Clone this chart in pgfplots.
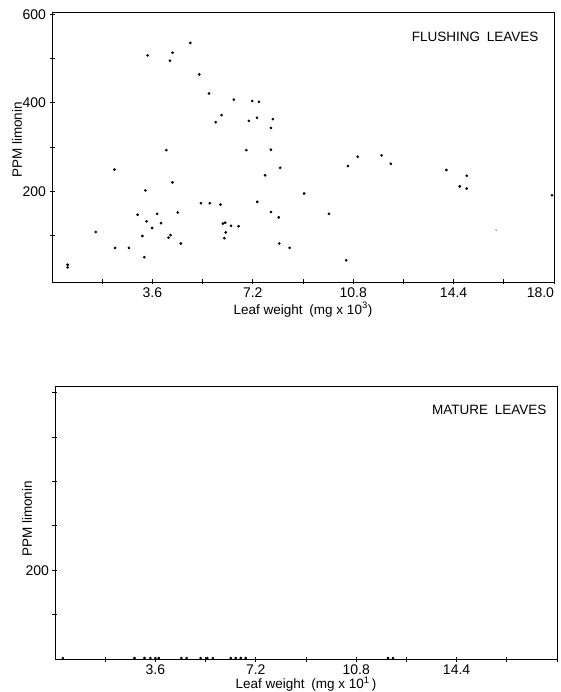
\documentclass[border=0pt]{standalone}
\usepackage{fontspec}
\setmainfont{Liberation Sans}
\usepackage{pgfplots}
\pgfplotsset{compat=1.18}
\pgfplotsset{
  leafstyle/.style={
    scale only axis, width=502pt,
    xmin=0, xmax=18,
    axis line style={line width=0.8pt},
    every tick/.style={line width=0.8pt, black},
    tick align=center,
    major tick length=5pt, minor tick length=5pt,
    xtick pos=bottom, ytick pos=left,
    xtick={3.6,7.2,10.8,14.4,18},
    minor xtick={1.8,5.4,9,12.6,16.2},
    ticklabel style={font=\fontsize{14}{16}\selectfont},
    label style={font=\fontsize{13.5}{16}\selectfont},
    /pgf/number format/assume math mode=true,
    clip=false,
  },
  dots/.style={only marks, mark=*, mark size=1.15pt, black},
}
\begin{document}
\begin{tikzpicture}
\useasboundingbox (0pt,0pt) rectangle (561pt,-692pt);
% ---------------- Flushing leaves ----------------
\begin{axis}[leafstyle,
  at={(52pt,-12pt)}, anchor=north west, height=270pt,
  ymin=-5, ymax=605,
  xticklabels={3.6,7.2,10.8,14.4,\makebox[0pt][r]{18.0}},
  ytick={200,400,600}, minor ytick={100,300,500},
  xlabel={Leaf weight\enspace(mg x 10\textsuperscript{3})},
  xlabel style={at={(axis description cs:0.5,0)}, anchor=center, yshift=-27.5pt},
  ylabel={PPM limonin},
  ylabel style={at={(axis description cs:0,0.526)}, anchor=center, yshift=35pt},
]
\addplot[dots] coordinates {
(0.56,34)(0.56,28)(1.57,108)(2.24,249)(2.26,72)(2.76,72)(3.07,147)(3.24,99)
(3.31,51)(3.35,202)(3.39,132)(3.43,507)(3.59,117)(3.77,149)(3.91,128)(4.10,293)
(4.18,95)(4.23,495)(4.25,101)(4.32,513)(4.32,220)(4.51,152)(4.62,82)(4.96,535)
(5.28,464)(5.34,173)(5.63,421)(5.66,173)(5.87,356)(6.04,170)(6.08,372)(6.13,127)
(6.21,129)(6.23,107)(6.18,94)(6.42,122)(6.52,407)(6.69,121)(6.97,293)(7.06,359)
(7.18,404)(7.36,176)(7.35,366)(7.42,402)(7.64,236)(7.85,153)(7.85,343)(7.85,294)
(7.92,363)(8.13,141)(8.15,82)(8.18,253)(8.52,72)(9.04,195)(9.93,149)(10.55,44)
(10.61,257)(10.96,278)(11.82,281)(12.15,262)(14.14,248)(14.62,211)(14.87,235)
(14.87,206)(17.93,191)
};
\addplot[only marks, mark=*, mark size=0.8pt, black!30] coordinates {(15.93,112)};
\node[font=\fontsize{13.5}{16}\selectfont, anchor=center] at (axis description cs:0.843,0.909) {FLUSHING\enspace LEAVES};
\end{axis}
% ---------------- Mature leaves ----------------
\begin{axis}[leafstyle,
  at={(55pt,-386pt)}, anchor=north west, height=273pt,
  ymin=0, ymax=615,
  xticklabels={3.6,7.2,10.8,14.4,{}},
  ytick={200}, minor ytick={100,300,400,500,600},
  xlabel={Leaf weight\enspace(mg x 10\textsuperscript{1}\,)},
  xlabel style={at={(axis description cs:0.5,0)}, anchor=center, yshift=-25.5pt},
  ylabel={PPM limonin},
  ylabel style={at={(axis description cs:0,0.513)}, anchor=center, yshift=28pt},
]
\addplot[dots] coordinates {
(0.28,2)(2.85,2)(3.21,2)(3.42,2)(3.6,2)(3.72,2)(4.53,2)(4.72,2)(5.22,2)
(5.46,2)(5.66,2)(6.3,2)(6.48,2)(6.66,2)(6.84,2)(11.94,2)(12.12,2)
};
\node[font=\fontsize{13.5}{16}\selectfont, anchor=center] at (axis description cs:0.865,0.912) {MATURE\enspace LEAVES};
\end{axis}
\end{tikzpicture}
\end{document}
